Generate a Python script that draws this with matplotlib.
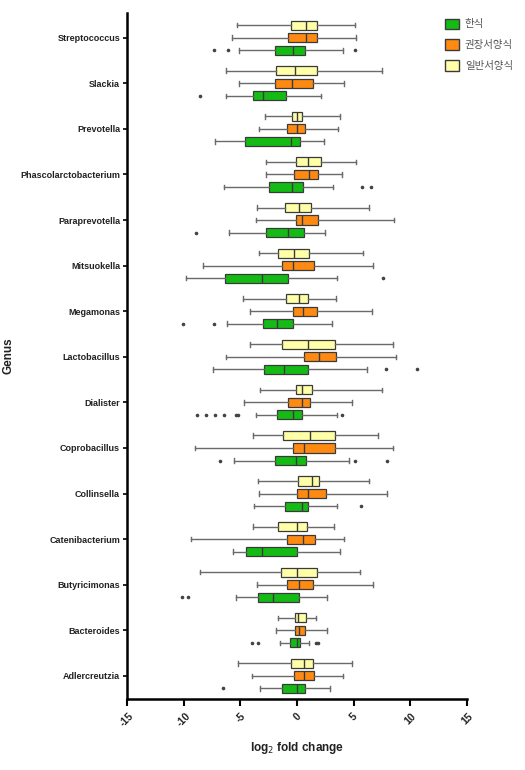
import matplotlib.pyplot as plt
from matplotlib.patches import Patch

plt.rcParams['font.family'] = ['Liberation Sans', 'Noto Sans CJK KR', 'DejaVu Sans']

# genera, top to bottom
genera = ['Streptococcus', 'Slackia', 'Prevotella', 'Phascolarctobacterium',
          'Paraprevotella', 'Mitsuokella', 'Megamonas', 'Lactobacillus',
          'Dialister', 'Coprobacillus', 'Collinsella', 'Catenibacterium',
          'Butyricimonas', 'Bacteroides', 'Adlercreutzia']

# 한식 (green)
kor_lo = [-5.15, -6.3, -7.2, -6.44, -6.0, -9.77, -6.15, -7.41, -3.65, -5.56, -3.79, -5.68, -5.41, -1.47, -3.27]
kor_q1 = [-1.97, -3.85, -4.6, -2.44, -2.71, -6.38, -3.03, -2.88, -1.79, -1.97, -1.03, -4.47, -3.41, -0.59, -1.29]
kor_med = [-0.35, -3.03, -0.56, -0.41, -0.82, -3.06, -1.79, -1.12, -0.32, -0.12, 0.41, -3.06, -2.09, 0.03, 0.03]
kor_q3 = [0.71, -1.0, 0.24, 0.56, 0.62, -0.82, -0.32, 1.0, 0.41, 0.77, 0.94, -0.03, 0.18, 0.29, 0.68]
kor_hi = [4.09, 2.09, 2.41, 3.18, 2.5, 3.5, 3.12, 6.2, 3.56, 4.59, 3.56, 3.8, 2.68, 1.09, 2.94]
kor_out = [[-7.3, -6.1, 5.12], [-8.53], [], [5.77, 6.53], [-8.88], [7.56], [-10.06, -7.3],
           [7.83, 10.56], [-8.83, -8.06, -7.21, -6.47, -5.4, -5.25, 3.94],
           [-6.83, 5.09, 7.94], [5.65], [], [-10.12, -9.59], [-3.97, -3.47, 1.71, 1.88], [-6.53]]

# 권장서양식 (orange)
rec_lo = [-5.7, -5.15, -3.35, -2.74, -3.65, -8.27, -4.15, -6.24, -4.68, -8.97, -3.32, -9.33, -3.56, -1.82, -4.0]
rec_q1 = [-0.77, -1.94, -0.88, -0.29, -0.12, -1.35, -0.32, 0.59, -0.82, -0.32, 0.0, -0.85, -0.85, -0.21, -0.26]
rec_med = [0.82, -0.41, -0.03, 1.03, 0.41, -0.32, 0.5, 1.91, 0.47, 0.59, 0.94, 0.5, 0.15, 0.18, 0.59]
rec_q3 = [1.79, 1.44, 0.71, 1.88, 1.88, 1.53, 1.74, 3.41, 1.17, 3.38, 2.56, 1.56, 1.38, 0.68, 1.47]
rec_hi = [5.2, 4.18, 3.59, 4.0, 8.53, 6.7, 6.65, 8.74, 4.83, 8.47, 7.91, 4.15, 6.68, 2.68, 4.09]

# 일반서양식 (yellow)
gen_lo = [-5.33, -6.3, -2.8, -2.74, -3.5, -3.38, -4.74, -4.18, -3.27, -3.91, -3.47, -3.85, -8.56, -1.71, -5.18]
gen_q1 = [-0.53, -1.85, -0.44, -0.12, -1.06, -1.65, -0.94, -1.35, -0.06, -1.26, 0.12, -1.65, -1.41, -0.18, -0.53]
gen_med = [0.77, -0.18, -0.03, 0.97, 0.15, -0.24, 0.15, 0.94, 0.44, 1.12, 1.32, -0.03, -0.03, 0.06, 0.65]
gen_q3 = [1.74, 1.74, 0.44, 2.09, 1.24, 1.03, 0.94, 3.33, 1.35, 3.35, 1.91, 0.91, 1.79, 0.77, 1.41]
gen_hi = [5.15, 7.5, 3.82, 5.18, 6.38, 5.85, 3.44, 8.47, 7.5, 7.15, 6.33, 3.27, 5.59, 1.65, 4.85]

groups = ['한식', '권장서양식', '일반서양식']
colors = ['#14bb14', '#ff8a12', '#ffffa8']


def make_stats(lo, q1, med, q3, hi, out=None):
    stats = []
    for i in range(len(lo)):
        stats.append({'whislo': lo[i], 'q1': q1[i], 'med': med[i], 'q3': q3[i],
                      'whishi': hi[i], 'fliers': out[i] if out else []})
    return stats


all_stats = [make_stats(kor_lo, kor_q1, kor_med, kor_q3, kor_hi, kor_out),
             make_stats(rec_lo, rec_q1, rec_med, rec_q3, rec_hi),
             make_stats(gen_lo, gen_q1, gen_med, gen_q3, gen_hi)]
offsets = [-0.275, 0.0, 0.275]

fig = plt.figure(figsize=(5.25, 7.7), dpi=100)
ax = fig.add_axes([0.242, 0.092, 0.6476, 0.891])

n = len(genera)
base = [n - 1 - i for i in range(n)]

for stats, off, col in zip(all_stats, offsets, colors):
    pos = [b + off for b in base]
    ax.bxp(stats, positions=pos, widths=0.2, vert=False, patch_artist=True,
           showfliers=True, capwidths=0.1,
           boxprops=dict(facecolor=col, edgecolor='#3a3a3a', linewidth=0.9),
           medianprops=dict(color='#3a3a3a', linewidth=1.0),
           whiskerprops=dict(color='#6a6a6a', linewidth=1.0),
           capprops=dict(color='#6a6a6a', linewidth=1.0),
           flierprops=dict(marker='o', markersize=1.6, markerfacecolor='#444444',
                           markeredgecolor='#444444', linestyle='none'))

ax.set_xlim(-15, 15)
ax.set_ylim(-0.51, 14.54)
ax.set_xticks([-15, -10, -5, 0, 5, 10, 15])
ax.set_xticklabels(['-15', '-10', '-5', '0', '5', '10', '15'], rotation=45,
                   ha='center', fontsize=7.5, fontweight='bold', color='#222222')
ax.set_yticks(base)
ax.set_yticklabels(genera, fontsize=6.5, fontweight='bold', color='#222222')

for s in ['top', 'right']:
    ax.spines[s].set_visible(False)
for s in ['left', 'bottom']:
    ax.spines[s].set_linewidth(1.8)
ax.tick_params(axis='x', width=1.5, length=5)
ax.tick_params(axis='y', width=1.2, length=3, pad=2)

ax.set_xlabel('log$_2$ fold change', fontsize=8.5, fontweight='bold', labelpad=8, color='#222222')
ax.set_ylabel('Genus', fontsize=8.5, fontweight='bold', labelpad=4, color='#222222')

handles = [Patch(facecolor=c, edgecolor='#3a3a3a', label=g) for g, c in zip(groups, colors)]
leg = fig.legend(handles=handles, loc='upper left', bbox_to_anchor=(0.83, 0.988), frameon=False,
                 handlelength=1.3, handleheight=1.2, labelspacing=0.95, handletextpad=0.6,
                 prop={'family': ['Noto Sans CJK KR', 'DejaVu Sans'], 'size': 7.5})
for t in leg.get_texts():
    t.set_color('#555555')

fig.savefig('out.png', dpi=100)
